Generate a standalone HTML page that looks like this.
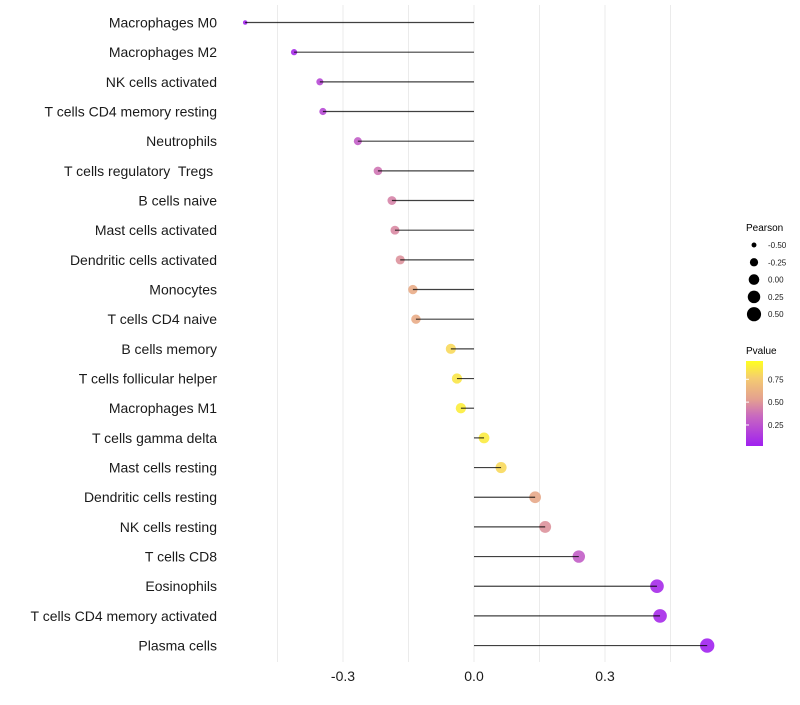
<!DOCTYPE html>
<html><head><meta charset="utf-8"><style>
body{margin:0;background:#fff;font-family:"Liberation Sans",sans-serif}
</style></head><body>
<svg id="chart" width="800" height="700" xmlns="http://www.w3.org/2000/svg" font-family="Liberation Sans, sans-serif">
<defs><linearGradient id="pg" x1="0" y1="1" x2="0" y2="0">
<stop offset="0" stop-color="#a020f0"/><stop offset="0.35" stop-color="#c868c0"/><stop offset="0.55" stop-color="#e4a090"/><stop offset="0.8" stop-color="#f5cc70"/><stop offset="1" stop-color="#ffff20"/></linearGradient></defs>
<g id="grid"></g><g id="marks"></g><g id="ylab"></g><g id="xlab"></g>
<g id="legend">
<text x="746" y="231" font-size="10">Pearson</text>
<g id="sizeleg"></g>
<text x="746" y="354" font-size="10">Pvalue</text>
<rect x="746" y="361" width="17" height="85" fill="url(#pg)"/>
<g id="colleg"></g>
</g>
</svg>
<script>
const categories=["Macrophages M0","Macrophages M2","NK cells activated","T cells CD4 memory resting","Neutrophils","T cells regulatory\u00a0 Tregs\u00a0","B cells naive","Mast cells activated","Dendritic cells activated","Monocytes","T cells CD4 naive","B cells memory","T cells follicular helper","Macrophages M1","T cells gamma delta","Mast cells resting","Dendritic cells resting","NK cells resting","T cells CD8","Eosinophils","T cells CD4 memory activated","Plasma cells"];
const pearson=[-0.524,-0.412,-0.353,-0.346,-0.266,-0.22,-0.188,-0.181,-0.169,-0.14,-0.133,-0.053,-0.039,-0.03,0.023,0.062,0.14,0.163,0.24,0.419,0.426,0.534];
const pvalue=[0.02,0.05,0.2,0.2,0.3,0.4,0.45,0.47,0.5,0.62,0.62,0.85,0.9,0.93,0.92,0.85,0.6,0.5,0.3,0.05,0.05,0.01];
const xTicks=[-0.3,0.0,0.3];
const gridVals=[-0.45,-0.3,-0.15,0,0.15,0.3,0.45];
const sizeLegend=[-0.5,-0.25,0,0.25,0.5];
const colTicks=[0.25,0.5,0.75];
const NS="http://www.w3.org/2000/svg";
const x=v=>474+v*436.7;
const y=i=>22.5+i*29.67;
const r=v=>Math.sqrt(Math.max(1,28+44*v));
const cy=p=>446-(p-0.02)/(0.95-0.02)*85;
function lerp(a,b,t){return a.map((c,i)=>Math.round(c+(b[i]-c)*t));}
const stops=[[0,[160,32,240]],[0.35,[200,104,192]],[0.55,[228,160,144]],[0.8,[245,204,112]],[1,[255,255,32]]];
function col(p){for(let k=1;k<stops.length;k++){if(p<=stops[k][0]){const t=(p-stops[k-1][0])/(stops[k][0]-stops[k-1][0]);return "rgb("+lerp(stops[k-1][1],stops[k][1],t).join(",")+")";}}return "rgb(255,255,32)";}
function mk(t,a,parent){const e=document.createElementNS(NS,t);for(const k in a)e.setAttribute(k,a[k]);document.getElementById(parent).appendChild(e);return e;}
gridVals.forEach(v=>{const l=mk("line",{x1:x(v),x2:x(v),y1:5,y2:662,stroke:"#ebebeb","stroke-width":1},"grid");

});
categories.forEach((c,i)=>{
const p=mk("circle",{cx:x(pearson[i]),cy:y(i),r:r(pearson[i]),fill:col(pvalue[i]),"fill-opacity":0.9},"marks");


const l=mk("line",{x1:x(0),x2:x(pearson[i]),y1:y(i),y2:y(i),stroke:"#000","stroke-opacity":0.75,"stroke-width":1.2},"marks");


const t=mk("text",{x:217,y:y(i)+5,"text-anchor":"end","font-size":14,fill:"#1a1a1a"},"ylab");t.textContent=c;


});
xTicks.forEach(v=>{const t=mk("text",{x:x(v),y:681,"text-anchor":"middle","font-size":14,fill:"#1a1a1a"},"xlab");t.textContent=v.toFixed(1);

});
sizeLegend.forEach((v,i)=>{const yy=245+i*17.3;
const c=mk("circle",{cx:754,cy:yy,r:r(v),fill:"#000"},"sizeleg");


const t=mk("text",{x:768,y:yy+3,"font-size":8,fill:"#1a1a1a"},"sizeleg");t.textContent=v.toFixed(2);

});
colTicks.forEach(v=>{const t=mk("text",{x:768,y:cy(v)+3,"font-size":8,fill:"#1a1a1a"},"colleg");t.textContent=v.toFixed(2);


const l=mk("line",{x1:746,x2:749,y1:cy(v),y2:cy(v),stroke:"#fff"},"colleg");

});
</script>
</body></html>
